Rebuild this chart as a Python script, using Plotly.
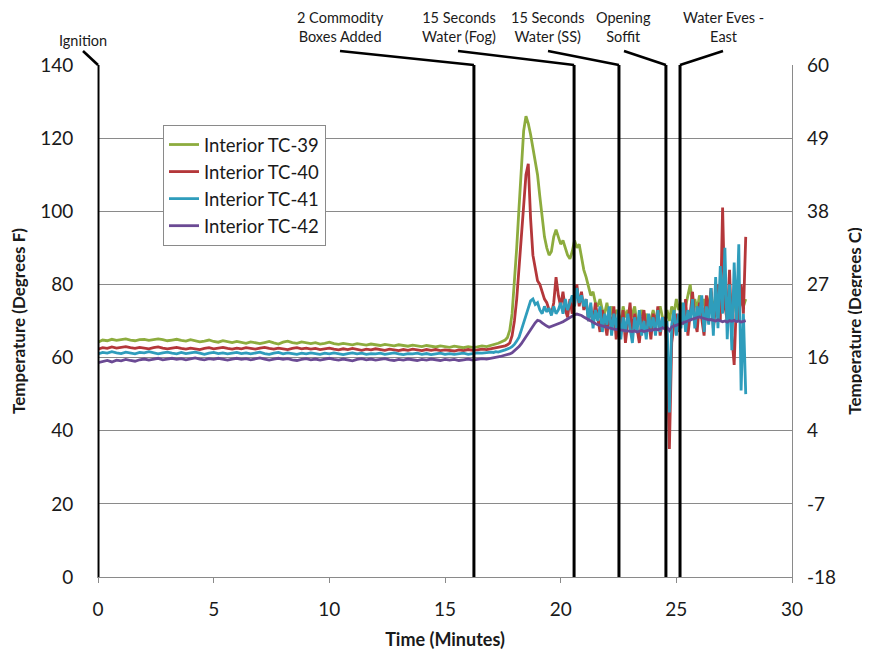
import plotly.graph_objects as go

# ---------------- data ----------------
# sample grid: every 0.2 min up to 17 min, then every 0.1 min to 28 min
time_min = [round(0.2 * i, 1) for i in range(86)] + [round(17.0 + 0.1 * i, 1) for i in range(1, 111)]

tc39 = [
    # 0 .. 17.0 min (0.2 step)
    64.2, 64.8, 64.6, 65.0, 64.7, 64.9, 65.1, 64.8, 64.6, 64.9, 65.0, 64.7, 64.8, 65.1, 64.9, 64.6,
    64.8, 65.0, 64.7, 64.5, 64.9, 64.6, 64.3, 64.5, 64.8, 64.4, 64.2, 64.6, 64.3, 64.1, 64.4,
    64.2, 63.9, 64.3, 64.0, 63.8, 64.1, 64.4, 64.0, 63.7, 64.2, 64.5, 64.1, 63.9, 64.3, 64.0,
    63.8, 64.1, 63.7, 63.9, 64.2, 63.8, 63.6, 63.9, 63.7, 63.5, 63.8, 63.6, 63.4, 63.7, 63.5,
    63.3, 63.6, 63.4, 63.2, 63.5, 63.3, 63.1, 63.4, 63.2, 63.0, 63.3, 63.1, 62.9, 63.2, 63.0,
    62.8, 63.1, 62.9, 62.7, 63.0, 62.8, 62.9, 63.2, 63.0, 63.3,
    # 17.1 .. 28.0 min (0.1 step)
    63.4, 63.6, 63.9, 64.2, 64.5, 64.8, 65.5, 67.5, 72, 80,
    90, 101, 112, 122, 126, 124, 121, 117, 114, 110,
    104, 98, 93, 90, 88, 89, 93, 95, 93, 91,
    92, 90, 88, 87, 89, 92, 90, 91, 87, 84,
    82, 79, 77, 78, 75, 74, 76, 73, 72, 75,
    71, 74, 70, 73, 72, 69, 74, 71, 73, 70,
    72, 74, 69, 71, 73, 70, 72, 68, 71, 73,
    70, 72, 74, 71, 69, 73, 70, 74, 72, 76,
    73, 75, 71, 74, 77, 80, 74, 76, 73, 77,
    74, 76, 72, 75, 78, 73, 76, 74, 77, 75,
    76, 73, 78, 74, 76, 72, 77, 75, 74, 76,
]

tc40 = [
    62.3, 62.7, 62.5, 62.9, 62.6, 62.8, 63.0, 62.7, 62.5, 62.8, 62.6, 62.4, 62.7, 62.9, 62.6, 62.4,
    62.6, 62.8, 62.5, 62.3, 62.6, 62.4, 62.2, 62.5, 62.7, 62.4, 62.6, 62.8, 62.5, 62.3, 62.6,
    62.4, 62.7, 62.5, 62.3, 62.6, 62.8, 62.5, 62.3, 62.6, 62.4, 62.2, 62.5, 62.7, 62.4, 62.6,
    62.3, 62.5, 62.2, 62.4, 62.6, 62.3, 62.1, 62.4, 62.2, 62.5, 62.3, 62.0, 62.3, 62.1, 62.4,
    62.2, 62.0, 62.3, 62.1, 61.9, 62.2, 62.0, 62.3, 62.1, 61.9, 62.2, 62.0, 62.2, 61.9, 62.1,
    62.0, 61.8, 62.1, 61.9, 62.2, 62.0, 62.1, 62.3, 62.2, 62.4,
    62.5, 62.6, 62.7, 62.8, 63.0, 63.2, 63.5, 64.0, 66, 70,
    76, 84, 94, 102, 110, 113, 98, 88, 84, 81,
    80, 78, 76, 75, 73, 72, 75, 82, 77, 74,
    78, 73, 71, 76, 72, 77, 80, 74, 78, 73,
    76, 70, 74, 69, 75, 71, 67, 73, 70, 66,
    72, 68, 74, 65, 70, 67, 73, 64, 69, 75,
    66, 72, 68, 64, 70, 73, 67, 71, 65, 72,
    68, 74, 66, 70, 71, 62, 35, 64, 69, 72,
    67, 73, 69, 76, 66, 72, 78, 70, 67, 75,
    71, 66, 77, 72, 79, 68, 74, 80, 70, 101,
    74, 70, 84, 66, 58, 76, 70, 80, 72, 93,
]

tc41 = [
    61.0, 61.4, 61.2, 61.6, 61.3, 61.1, 61.5, 61.2, 61.0, 61.4, 61.3, 61.6, 61.2, 61.0, 61.3, 61.5,
    61.2, 61.0, 61.4, 61.1, 61.3, 61.5, 61.2, 60.9, 61.2, 61.4, 61.1, 61.3, 61.0, 61.2, 61.4,
    61.1, 61.3, 61.0, 61.2, 61.5, 61.1, 60.9, 61.2, 61.4, 61.0, 61.3, 61.1, 60.9, 61.2, 61.0,
    61.3, 61.1, 60.9, 61.2, 61.0, 61.3, 61.1, 60.8, 61.1, 61.3, 61.0, 61.2, 60.9, 61.1, 61.0,
    61.2, 60.9, 61.1, 61.3, 61.0, 60.8, 61.1, 61.0, 61.2, 60.9, 61.1, 60.8, 61.0, 61.2, 60.9,
    61.1, 60.9, 61.0, 61.2, 60.9, 61.1, 61.3, 61.2, 61.4, 61.5,
    61.4, 61.6, 61.5, 61.8, 61.9, 62.1, 62.3, 62.6, 63.0, 63.6,
    64.5, 65.6, 67.5, 69.5, 71, 73, 75.5, 76, 74.5, 75,
    73, 72, 74, 72.5, 73.5, 71.5, 74, 72, 73, 75,
    72, 76, 73, 75, 77, 74, 79, 75, 77, 74,
    76, 70, 75, 68, 73, 70, 74, 67, 72, 69,
    74, 66, 72, 68, 73, 65, 71, 67, 72, 68,
    64, 71, 67, 73, 66, 70, 65, 72, 68, 71,
    66, 73, 67, 71, 68, 70, 45, 69, 73, 66,
    72, 68, 75, 67, 73, 70, 76, 68, 74, 71,
    77, 67, 74, 69, 79, 66, 82, 68, 85, 72,
    90, 65, 80, 62, 86, 70, 91, 51, 72, 50,
]

tc42 = [
    58.6, 58.9, 59.2, 58.8, 59.3, 59.1, 59.5, 59.2, 59.0, 59.4, 59.6, 59.3, 59.5, 59.8, 59.4, 59.6,
    59.8, 59.5, 59.7, 59.4, 59.6, 59.9, 59.6, 59.4, 59.7, 59.5, 59.8, 59.6, 59.3, 59.6, 59.8,
    59.5, 59.7, 59.4, 59.6, 59.9, 59.6, 59.3, 59.6, 59.8, 59.5, 59.7, 59.4, 59.2, 59.5, 59.7,
    59.4, 59.6, 59.3, 59.5, 59.8, 59.5, 59.3, 59.6, 59.4, 59.1, 59.5, 59.7, 59.4, 59.6, 59.3,
    59.5, 59.7, 59.4, 59.2, 59.5, 59.3, 59.6, 59.4, 59.2, 59.5, 59.3, 59.6, 59.4, 59.2, 59.5,
    59.3, 59.5, 59.2, 59.4, 59.6, 59.3, 59.5, 59.7, 59.6, 59.8,
    59.8, 60.0, 60.1, 60.3, 60.5, 60.6, 60.8, 61.0, 61.3, 61.8,
    62.3, 63.0, 63.8, 64.8, 65.8, 66.8, 67.8, 68.8, 69.5, 70.2,
    70.0, 69.5, 69.0, 68.6, 68.3, 68.5, 68.7, 69.0, 69.3, 69.5,
    69.8, 70.2, 70.6, 71.0, 71.4, 71.7, 71.9, 71.8, 71.5, 71.1,
    70.7, 70.3, 69.9, 69.6, 69.3, 69.0, 68.8, 68.6, 68.5, 68.3,
    68.1, 68.0, 67.8, 67.7, 67.6, 67.5, 67.4, 67.3, 67.3, 67.2,
    67.1, 67.3, 67.0, 67.2, 67.4, 67.1, 67.3, 67.5, 67.4, 67.6,
    67.8, 67.6, 67.9, 68.1, 67.9, 68.2, 67.4, 68.4, 68.6, 68.8,
    69.0, 69.3, 69.5, 69.8, 70.0, 70.3, 70.5, 70.8, 71.0, 71.1,
    70.9, 70.7, 70.5, 70.3, 70.4, 70.2, 70.0, 70.3, 70.1, 69.8,
    70.0, 69.7, 70.1, 69.9, 70.2, 69.8, 70.0, 69.7, 69.9, 70.1,
]

series_names = ["Interior TC-39", "Interior TC-40", "Interior TC-41", "Interior TC-42"]

event_times = [0.0, 16.25, 20.58, 22.52, 24.55, 25.16]
event_labels = ["Ignition", "2 Commodity<br>Boxes Added", "15 Seconds<br>Water (Fog)",
                "15 Seconds<br>Water (SS)", "Opening<br>Soffit", "Water Eves -<br>East"]

y_ticks_f = [0, 20, 40, 60, 80, 100, 120, 140]
y_ticks_c = ["-18", "-7", "4", "16", "27", "38", "49", "60"]
x_ticks = [0, 5, 10, 15, 20, 25, 30]

# ---------------- style / layout ----------------
colors = ["#8DAC3E", "#B4373A", "#2F9DBC", "#6B4A94"]
FONT = "Lato, 'Open Sans', sans-serif"
TXT = "#1a1a1a"

# the page body adds an 8px offset; work in screen pixels and compensate
OFF = 8
W, H = 870 - OFF, 656 - OFF
PLOT_L, PLOT_R, PLOT_T, PLOT_B = 98, 792, 65, 577  # plot area in screen px
L, R, T, B = PLOT_L - OFF, W - (PLOT_R - OFF), PLOT_T - OFF, H - (PLOT_B - OFF)
PW, PH = PLOT_R - PLOT_L, PLOT_B - PLOT_T


def px2paper_x(px):
    return (px - PLOT_L) / PW


def px2paper_y(py):
    return (PLOT_B - py) / PH


fig = go.Figure()
for name, vals, col in zip(series_names, [tc39, tc40, tc41, tc42], colors):
    fig.add_trace(go.Scatter(x=time_min, y=vals, name=name, mode="lines",
                             line=dict(color=col, width=2.8)))

# dummy trace to activate right axis
fig.add_trace(go.Scatter(x=[0, 0], y=[0, 140], yaxis="y2", mode="lines",
                         line=dict(width=0), opacity=0, showlegend=False, hoverinfo="skip"))

shapes = []
for t in event_times:
    shapes.append(dict(type="line", xref="x", yref="y", x0=t, x1=t, y0=0, y1=140,
                       line=dict(color="black", width=3), layer="above"))

# annotation text centres (screen px) and leader-line starts (screen px)
text_cx = [83, 340, 459, 548, 623, 723]
text_cy = [40, 27, 27, 27, 27, 27]
lead_sx = [83, 340, 458, 548, 624, 723]
lead_sy = 51

annotations = []
for t, lab, cx, cy, sx in zip(event_times, event_labels, text_cx, text_cy, lead_sx):
    annotations.append(dict(text=lab, xref="paper", yref="paper", x=px2paper_x(cx), y=px2paper_y(cy),
                            xanchor="center", yanchor="middle", showarrow=False,
                            font=dict(family=FONT, size=14.5, color=TXT)))
    shapes.append(dict(type="line", xref="paper", yref="paper",
                       x0=px2paper_x(sx), y0=px2paper_y(lead_sy), x1=t / 30.0, y1=1.0,
                       line=dict(color="black", width=2.6)))

fig.update_layout(
    width=W, height=H,
    margin=dict(l=L, r=R, t=T, b=B, autoexpand=False),
    paper_bgcolor="white", plot_bgcolor="white",
    font=dict(family=FONT, color=TXT),
    showlegend=True,
    legend=dict(x=px2paper_x(163), y=px2paper_y(125), xanchor="left", yanchor="top",
                bgcolor="white", bordercolor="#8a8a8a", borderwidth=1,
                font=dict(family=FONT, size=18.5, color=TXT),
                tracegroupgap=0, itemwidth=30),
    xaxis=dict(range=[0, 30], tickvals=x_ticks, showgrid=False, zeroline=False, automargin=False,
               showline=True, linecolor="#8a8a8a", linewidth=1.2,
               ticks="outside", ticklen=5, tickcolor="#8a8a8a", ticklabelstandoff=10,
               tickfont=dict(family=FONT, size=19, color=TXT),
               title=dict(text="<b>Time (Minutes)</b>", font=dict(family=FONT, size=18, color=TXT),
                          standoff=14)),
    yaxis=dict(range=[0, 140], tickvals=y_ticks_f, showgrid=True, gridcolor="#8a8a8a", gridwidth=1,
               zeroline=False, showline=True, linecolor="#8a8a8a", automargin=False,
               ticks="", ticklabelstandoff=20,
               tickfont=dict(family=FONT, size=19, color=TXT),
               title=dict(text="<b>Temperature (Degrees F)</b>",
                          font=dict(family=FONT, size=17, color=TXT), standoff=10)),
    yaxis2=dict(range=[0, 140], overlaying="y", side="right", tickvals=y_ticks_f, ticktext=y_ticks_c,
                showgrid=False, zeroline=False, showline=True, linecolor="#8a8a8a", linewidth=1.2,
                automargin=False, ticks="", ticklabelstandoff=10,
                tickfont=dict(family=FONT, size=19, color=TXT),
                title=dict(text="<b>Temperature (Degrees C)</b>",
                           font=dict(family=FONT, size=17, color=TXT), standoff=14)),
    shapes=shapes,
    annotations=annotations,
)

fig.write_html("out.html")
